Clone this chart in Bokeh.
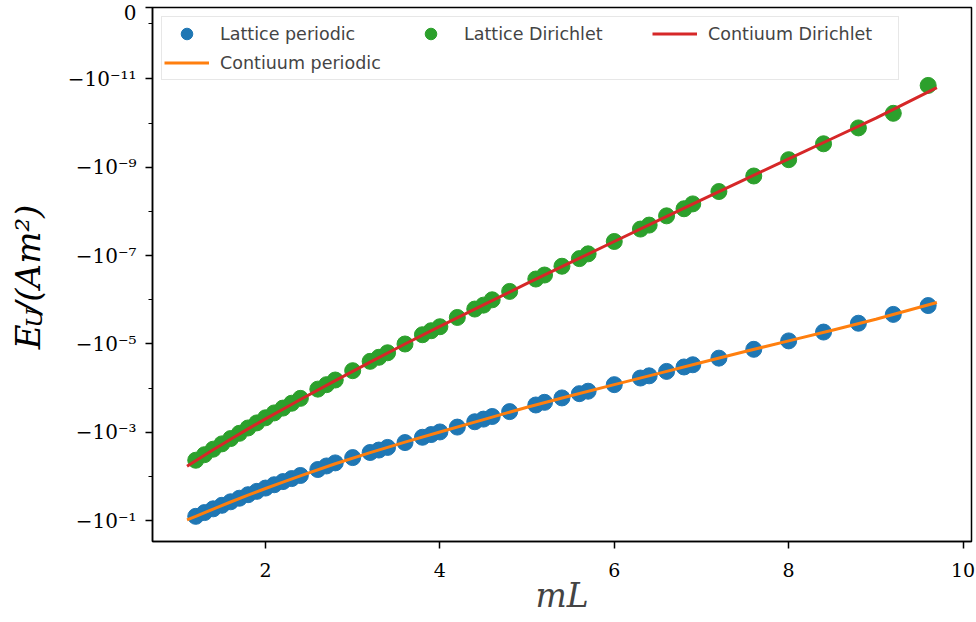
import numpy as np
from bokeh.plotting import figure
from bokeh.layouts import row
from bokeh.models import Range1d, FixedTicker, Legend, LegendItem
from bokeh.core.properties import value
from bokeh.embed import file_html
from bokeh.resources import INLINE

# ---------------- data ----------------
mL_lattice = [1.2, 1.3, 1.4, 1.5, 1.6, 1.7, 1.8, 1.9, 2.0, 2.1, 2.2, 2.3, 2.4,
              2.6, 2.7, 2.8, 3.0, 3.2, 3.3, 3.4, 3.6, 3.8, 3.9, 4.0, 4.2, 4.4,
              4.5, 4.6, 4.8, 5.1, 5.2, 5.4, 5.6, 5.7, 6.0, 6.3, 6.4, 6.6, 6.8,
              6.9, 7.2, 7.6, 8.0, 8.4, 8.8, 9.2, 9.6]

E_lattice_periodic = [-7.94e-2, -6.53e-2, -5.37e-2, -4.47e-2, -3.72e-2, -3.09e-2,
                      -2.57e-2, -2.16e-2, -1.82e-2, -1.53e-2, -1.30e-2, -1.11e-2,
                      -9.44e-3, -6.92e-3, -5.75e-3, -4.90e-3, -3.72e-3, -2.85e-3,
                      -2.51e-3, -2.19e-3, -1.70e-3, -1.29e-3, -1.12e-3, -9.77e-4,
                      -7.59e-4, -5.75e-4, -5.01e-4, -4.37e-4, -3.39e-4, -2.40e-4,
                      -2.09e-4, -1.66e-4, -1.33e-4, -1.17e-4, -8.32e-5, -5.89e-5,
                      -5.25e-5, -4.17e-5, -3.31e-5, -2.95e-5, -2.09e-5, -1.32e-5,
                      -8.51e-6, -5.37e-6, -3.39e-6, -2.14e-6, -1.35e-6]

E_lattice_dirichlet = [-4.27e-3, -3.20e-3, -2.40e-3, -1.82e-3, -1.38e-3, -1.05e-3,
                       -7.94e-4, -6.10e-4, -4.68e-4, -3.63e-4, -2.82e-4, -2.19e-4,
                       -1.70e-4, -1.05e-4, -8.32e-5, -6.53e-5, -4.02e-5, -2.47e-5,
                       -2.00e-5, -1.58e-5, -1.00e-5, -6.17e-6, -5.01e-6, -4.07e-6,
                       -2.51e-6, -1.62e-6, -1.32e-6, -1.00e-6, -6.46e-7, -3.39e-7,
                       -2.75e-7, -1.74e-7, -1.17e-7, -9.12e-8, -4.79e-8, -2.51e-8,
                       -2.04e-8, -1.26e-8, -8.71e-9, -6.76e-9, -3.55e-9, -1.58e-9,
                       -6.76e-10, -2.95e-10, -1.29e-10, -6.03e-11, -1.41e-11]

mL_cont = [1.1, 1.2, 1.4, 1.6, 1.8, 2.0, 2.2, 2.4, 2.8, 3.2, 3.6, 4.0, 4.5,
           5.0, 5.5, 6.0, 6.5, 7.0, 7.5, 8.0, 8.5, 9.0, 9.7]

E_cont_dirichlet = [-5.82e-3, -4.37e-3, -2.48e-3, -1.43e-3, -8.32e-4, -4.95e-4,
                    -2.99e-4, -1.80e-4, -6.76e-5, -2.57e-5, -1.00e-5, -3.98e-6,
                    -1.30e-6, -4.27e-7, -1.43e-7, -4.79e-8, -1.62e-8, -5.50e-9,
                    -1.88e-9, -6.46e-10, -2.24e-10, -7.76e-11, -1.58e-11]

E_cont_periodic = [-9.55e-2, -7.94e-2, -5.43e-2, -3.76e-2, -2.63e-2, -1.86e-2,
                   -1.33e-2, -9.66e-3, -5.13e-3, -2.88e-3, -1.66e-3, -9.77e-4,
                   -5.13e-4, -2.69e-4, -1.48e-4, -8.32e-5, -4.68e-5, -2.63e-5,
                   -1.48e-5, -8.51e-6, -4.90e-6, -2.75e-6, -1.15e-6]

x_ticks = [2, 4, 6, 8, 10]
y_tick_E = [-1e-1, -1e-3, -1e-5, -1e-7, -1e-9, -1e-11]
y_tick_labels = ["−10⁻¹", "−10⁻³", "−10⁻⁵", "−10⁻⁷", "−10⁻⁹", "−10⁻¹¹"]
y_minor_E = [-1e-2, -1e-4, -1e-6, -1e-8, -1e-10]
zero_label = "0"
x_label = "mL"
y_label_parts = ["E", "U", "/(Am²)"]   # E_U/(Am^2)
legend_labels = ["Lattice periodic", "Lattice Dirichlet",
                 "Contiuum Dirichlet", "Contiuum periodic"]

# ---------------- symlog-like mapping for negative values ----------------
def ymap(E):
    return -np.log10(-np.asarray(E, dtype=float))

Y_BOTTOM = 0.531    # plot units at bottom of frame
Y_ZERO = 12.614     # plot units where E = 0 (top of frame)
Y_LIN_MINOR = 12.26 # minor tick inside the linear part near zero

BLUE, ORANGE, GREEN, RED = "#1f77b4", "#ff7f0e", "#2ca02c", "#d62728"
SERIF = "DejaVu Serif"

W, H = 976, 622
LEFT_W = 60      # width of the strip holding the y-axis label

p = figure(width=W - LEFT_W, height=H, output_backend="svg", toolbar_location=None,
           x_range=Range1d(0.704, 10.097), y_range=Range1d(Y_BOTTOM, Y_ZERO),
           min_border_left=152 - LEFT_W, min_border_right=5, min_border_top=7,
           min_border_bottom=81)
p.grid.visible = False
p.background_fill_color = "white"
p.border_fill_color = "white"
p.outline_line_color = "black"
p.outline_line_width = 1.5
p.outline_line_alpha = 1.0

r_lp = p.scatter(mL_lattice, ymap(E_lattice_periodic), size=16, color=BLUE)
r_cp = p.line(mL_cont, ymap(E_cont_periodic), line_width=3, color=ORANGE)
r_ld = p.scatter(mL_lattice, ymap(E_lattice_dirichlet), size=16, color=GREEN)
r_cd = p.line(mL_cont, ymap(E_cont_dirichlet), line_width=3, color=RED)

# axes
xa = p.xaxis[0]
xa.ticker = FixedTicker(ticks=x_ticks, minor_ticks=[])
xa.major_label_text_font = SERIF
xa.major_label_text_font_size = "19px"
xa.major_label_standoff = 14
xa.axis_label = x_label
xa.axis_label_text_font = SERIF
xa.axis_label_text_font_style = "italic"
xa.axis_label_text_font_size = "33px"
xa.axis_label_standoff = -4

ya = p.yaxis[0]
yt = [float(v) for v in ymap(y_tick_E)] + [Y_ZERO]
ya.ticker = FixedTicker(ticks=yt, minor_ticks=[float(v) for v in ymap(y_minor_E)] + [Y_LIN_MINOR])
overrides = {float(v): lab for v, lab in zip(ymap(y_tick_E), y_tick_labels)}
overrides[Y_ZERO] = zero_label
ya.major_label_overrides = overrides
ya.major_label_text_font = SERIF
ya.major_label_text_font_size = "20px"
ya.major_label_standoff = 9

for ax in (xa, ya):
    ax.axis_line_width = 1.5
    ax.major_tick_line_width = 1.5
    ax.minor_tick_line_width = 1.2
    ax.major_tick_out = 7
    ax.major_tick_in = 0
    ax.minor_tick_out = 4
    ax.minor_tick_in = 0
    ax.major_label_text_color = "black"

legend = Legend(items=[LegendItem(label=legend_labels[0], renderers=[r_lp]),
                       LegendItem(label=legend_labels[1], renderers=[r_ld]),
                       LegendItem(label=legend_labels[2], renderers=[r_cd]),
                       LegendItem(label=legend_labels[3], renderers=[r_cp])],
                location="top_left", orientation="horizontal", ncols=3)
legend.margin = 9
legend.padding = 2
legend.spacing = 0
legend.glyph_width = 45
legend.glyph_height = 29
legend.label_height = 20
legend.label_width = 188
legend.label_standoff = 11
legend.label_text_font = "DejaVu Sans"
legend.label_text_font_size = "17.5px"
legend.border_line_color = "#d0d0d0"
legend.border_line_width = 1.5
legend.background_fill_alpha = 0.8
p.add_layout(legend)

# ---------------- strip with the rotated y-axis label ----------------
yl = figure(width=LEFT_W, height=H, output_backend="svg", toolbar_location=None,
            x_range=Range1d(0, LEFT_W), y_range=Range1d(0, H),
            x_axis_location=None, y_axis_location=None,
            min_border=0, min_border_left=0, min_border_right=0,
            min_border_top=0, min_border_bottom=0)
yl.grid.visible = False
yl.outline_line_color = None
for txt, x, cy, size in [(y_label_parts[0], 27, 398, "34px"),
                         (y_label_parts[1], 33, 373, "23px"),
                         (y_label_parts[2], 27, 356, "34px")]:
    yl.text(x=[x], y=[H - cy], text=[txt], angle=np.pi / 2,
            text_align="left", text_baseline="alphabetic", text_font=value(SERIF),
            text_font_style="italic", text_font_size=size, text_color="black")

layout = row(yl, p)
open("out.html", "w").write(file_html(layout, INLINE))
